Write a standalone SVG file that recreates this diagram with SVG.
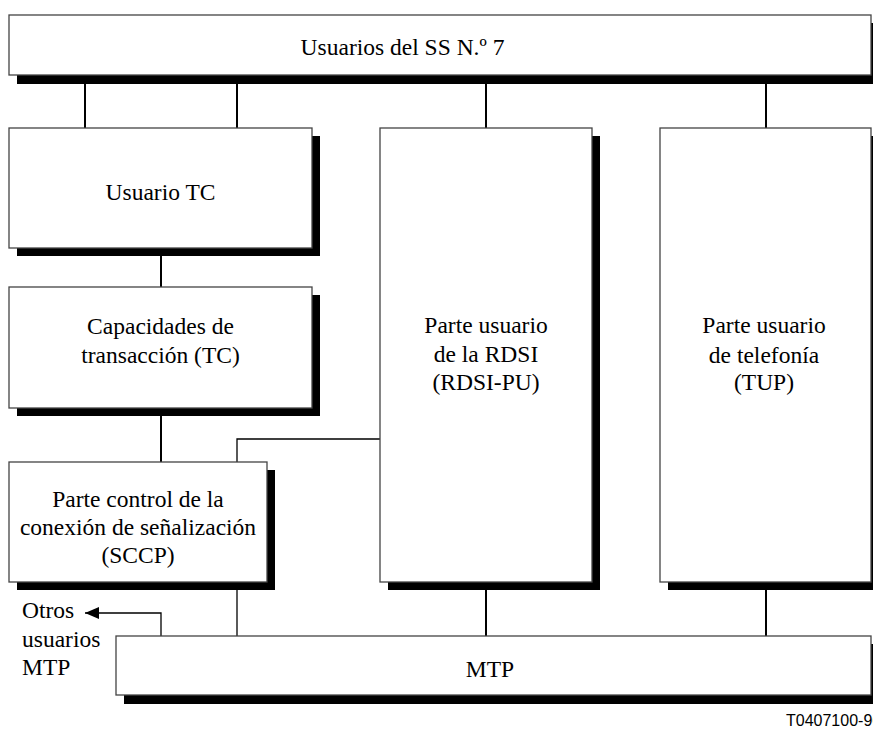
<svg xmlns="http://www.w3.org/2000/svg" width="873" height="731" viewBox="0 0 873 731">
  <style>
    .box { fill: #fff; stroke: #444; stroke-width: 1.3; }
    .shadow { fill: #000; }
    .lbl { font-family: "Liberation Serif", "Times New Roman", serif; font-size: 23.5px; fill: #000; text-anchor: middle; }
    .side { font-family: "Liberation Serif", "Times New Roman", serif; font-size: 23.5px; fill: #000; }
    .code { font-family: "Liberation Sans", Arial, sans-serif; font-size: 16px; fill: #000; }
    .wire { fill: none; stroke: #000; stroke-width: 2; }
    .thin { fill: none; stroke: #000; stroke-width: 1.3; }
  </style>
  <defs>
    <marker id="arrow" viewBox="0 0 14 12" refX="14" refY="6" markerWidth="14" markerHeight="12" markerUnits="userSpaceOnUse" orient="auto">
      <path d="M0,0 L14,6 L0,12 Z" fill="#000"/>
    </marker>
  </defs>
  <rect width="873" height="731" fill="#fff"/>

  <g id="connectors">
    <line class="wire" x1="85" y1="83" x2="85" y2="128"/>
    <line class="wire" x1="237" y1="83" x2="237" y2="128"/>
    <line class="wire" x1="486" y1="83" x2="486" y2="128"/>
    <line class="wire" x1="766" y1="83" x2="766" y2="128"/>
    <line class="wire" x1="161" y1="256" x2="161" y2="287"/>
    <line class="wire" x1="161" y1="416" x2="161" y2="462"/>
    <polyline class="thin" points="237,462 237,439 380,439"/>
    <line class="thin" x1="237" y1="590" x2="237" y2="636"/>
    <line class="wire" x1="486" y1="590" x2="486" y2="636"/>
    <line class="wire" x1="766" y1="590" x2="766" y2="636"/>
    <polyline class="thin" points="161,636 161,613 85,613" marker-end="url(#arrow)"/>
  </g>

  <g id="ss7-users">
    <rect class="shadow" x="17" y="23" width="863" height="61"/>
    <rect class="box" x="9" y="15" width="862" height="60"/>
    <text class="lbl" x="402.5" y="55">Usuarios del SS N.º 7</text>
  </g>

  <g id="tc-user">
    <rect class="shadow" x="17" y="136" width="303" height="120"/>
    <rect class="box" x="9" y="128" width="303" height="120"/>
    <text class="lbl" x="160.5" y="200">Usuario TC</text>
  </g>

  <g id="tc">
    <rect class="shadow" x="17" y="295" width="303" height="121"/>
    <rect class="box" x="9" y="287" width="303" height="121"/>
    <text class="lbl" x="160.5" y="334">Capacidades de</text>
    <text class="lbl" x="160.5" y="363">transacción (TC)</text>
  </g>

  <g id="sccp">
    <rect class="shadow" x="17" y="470" width="258" height="120"/>
    <rect class="box" x="9" y="462" width="258" height="120"/>
    <text class="lbl" x="138" y="507">Parte control de la</text>
    <text class="lbl" x="138" y="535">conexión de señalización</text>
    <text class="lbl" x="138" y="563">(SCCP)</text>
  </g>

  <g id="isup">
    <rect class="shadow" x="388" y="136" width="212" height="454"/>
    <rect class="box" x="380" y="128" width="212" height="454"/>
    <text class="lbl" x="486" y="333">Parte usuario</text>
    <text class="lbl" x="486" y="362">de la RDSI</text>
    <text class="lbl" x="486" y="390">(RDSI-PU)</text>
  </g>

  <g id="tup">
    <rect class="shadow" x="668" y="136" width="212" height="454"/>
    <rect class="box" x="660" y="128" width="211" height="454"/>
    <text class="lbl" x="764" y="333">Parte usuario</text>
    <text class="lbl" x="764" y="363">de telefonía</text>
    <text class="lbl" x="764" y="390">(TUP)</text>
  </g>

  <g id="mtp">
    <rect class="shadow" x="124" y="644" width="756" height="60"/>
    <rect class="box" x="116" y="636" width="755" height="59"/>
    <text class="lbl" x="490" y="677">MTP</text>
  </g>

  <g id="other-mtp-users">
    <text class="side" x="22" y="618">Otros</text>
    <text class="side" x="22" y="647">usuarios</text>
    <text class="side" x="22" y="675">MTP</text>
  </g>

  <text class="code" x="786" y="726">T0407100-96</text>
</svg>
